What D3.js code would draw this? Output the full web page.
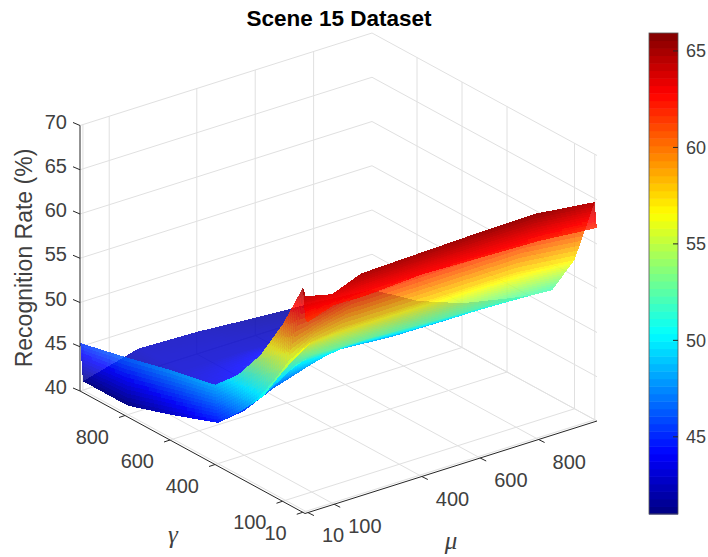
<!DOCTYPE html>
<html>
<head>
<meta charset="utf-8">
<script src="https://cdn.jsdelivr.net/npm/d3@7"></script>
<style>
  html, body { margin: 0; padding: 0; background: #fff; }
  text { font-family: "Liberation Sans", Arial, sans-serif; fill: #404040; }
</style>
</head>
<body>
<svg id="chart" width="708" height="557"></svg>
<script>
// data
const gammaValues = [1, 10, 100, 200, 300, 400, 600, 800, 1000];
const muValues = [1, 10, 100, 200, 400, 600, 800, 1000];
// one row per gamma, one column per mu
const rateRows = [
  [62.0, 61.5, 62.5, 62.4, 62.8, 62.6, 62.4, 61.8],
  [65.4, 64.3, 63.6, 64.9, 65.1, 65.3, 65.4, 64.6],
  [60.0, 55.0, 57.0, 57.5, 57.5, 57.5, 57.5, 56.8],
  [55.1, 50.3, 53.5, 53.3, 53.1, 52.8, 52.5, 52.0],
  [51.5, 47.3, 48.4, 50.6, 50.8, 50.4, 50.2, 50.0],
  [49.0, 44.6, 45.0, 46.5, 48.6, 48.1, 48.0, 48.3],
  [47.9, 42.7, 43.3, 44.0, 45.6, 45.6, 45.0, 45.0],
  [46.6, 41.0, 42.0, 43.0, 43.0, 42.8, 42.5, 42.5],
  [45.4, 41.0, 41.8, 42.7, 42.5, 42.0, 41.6, 41.0]
];
const gammaTicks = [10, 100, 400, 600, 800];
const muTicks = [10, 100, 400, 600, 800];
const rateTicks = [40, 45, 50, 55, 60, 65, 70];
const colorTicks = [45, 50, 55, 60, 65];

const svg = d3.select("#chart");

// box corners on the page
const corner = {x: 305, y: 513.5};
const gammaVec = {x: -225, y: -122.5};
const muVec = {x: 292, y: -92.5};

const gammaT = d3.scaleLinear().domain([0, 1000]).range([0, 1]);
const muT = d3.scaleLinear().domain([0, 1000]).range([0, 1]);
const rateY = d3.scaleLinear().domain([40, 70]).range([0, 265.5]);

function project(g, m, z) {
  let a = gammaT(g), b = muT(m);
  return [
    corner.x + a * gammaVec.x + b * muVec.x,
    corner.y + a * gammaVec.y + b * muVec.y - rateY(z)
  ];
}

// far cells first
function depth(g, m, z) {
  return 263 * gammaT(g) + 206 * muT(m) - 4.14 * (z - 40);
}

const colorDomain = [41, 65.93];
const jet = d3.scaleLinear()
  .domain([0, 0.125, 0.375, 0.625, 0.875, 1])
  .range(["#000080", "#0000ff", "#00ffff", "#ffff00", "#ff0000", "#800000"]);
const colorT = d3.scaleLinear().domain(colorDomain).range([0, 1]).clamp(true);
const levelColor = i => jet((i + 0.5) / 64);

// walls and floor
const gridLines = [];
for (let z of rateTicks) {
  gridLines.push([[1000, 0, z], [1000, 1000, z]]);
  gridLines.push([[1000, 1000, z], [0, 1000, z]]);
}
for (let m of muTicks) {
  gridLines.push([[1000, m, 40], [1000, m, 70]]);
  gridLines.push([[1000, m, 40], [0, m, 40]]);
}
for (let g of gammaTicks) {
  gridLines.push([[g, 1000, 40], [g, 1000, 70]]);
  gridLines.push([[g, 1000, 40], [g, 0, 40]]);
}
gridLines.push([[1000, 0, 40], [1000, 1000, 40]], [[1000, 1000, 40], [0, 1000, 40]]);

const line = d3.line();
svg.append("g").attr("fill", "none").attr("stroke", "#e0e0e0").attr("stroke-width", 1)
  .selectAll("path").data(gridLines).join("path")
  .attr("d", d => line(d.map(p => project(p[0], p[1], p[2]))));

// surface: every cell cut into small pieces so the colour runs across it
const pieces = [];
const steps = 12;
for (let r = 0; r < gammaValues.length - 1; r++) {
  for (let c = 0; c < muValues.length - 1; c++) {
    let g0 = gammaValues[r], g1 = gammaValues[r + 1];
    let m0 = muValues[c], m1 = muValues[c + 1];
    let zAt = (u, v) =>
      (1 - u) * (1 - v) * rateRows[r][c] + (1 - u) * v * rateRows[r][c + 1] +
      u * (1 - v) * rateRows[r + 1][c] + u * v * rateRows[r + 1][c + 1];
    for (let i = 0; i < steps; i++) {
      for (let j = 0; j < steps; j++) {
        let u0 = i / steps, u1 = (i + 1) / steps, v0 = j / steps, v1 = (j + 1) / steps;
        let at = (u, v) => project(g0 + u * (g1 - g0), m0 + v * (m1 - m0), zAt(u, v));
        let zMid = zAt((u0 + u1) / 2, (v0 + v1) / 2);
        pieces.push({
          pts: [at(u0, v0), at(u0, v1), at(u1, v1), at(u1, v0)],
          z: zMid,
          d: depth(g0 + (u0 + u1) / 2 * (g1 - g0), m0 + (v0 + v1) / 2 * (m1 - m0), zMid)
        });
      }
    }
  }
}
pieces.sort((a, b) => b.d - a.d);

svg.append("defs").append("filter").attr("id", "soft")
  .attr("x", "-5%").attr("y", "-5%").attr("width", "110%").attr("height", "110%")
  .append("feGaussianBlur").attr("stdDeviation", 0.7);

svg.append("g").attr("filter", "url(#soft)").attr("shape-rendering", "crispEdges")
  .selectAll("polygon").data(pieces).join("polygon")
  .attr("points", d => d.pts.map(p => p.join(",")).join(" "))
  .attr("fill", d => jet(colorT(d.z)))
  .attr("fill-opacity", 0.84);

// axis lines
const axisColor = "#262626";
const axes = svg.append("g").attr("fill", "none").attr("stroke", axisColor).attr("stroke-width", 1);
axes.append("path").attr("d", line([project(1000, 0, 40), project(1000, 0, 70)]));
axes.append("path").attr("d", line([project(1000, 0, 40), project(0, 0, 40)]));
axes.append("path").attr("d", line([project(0, 0, 40), project(0, 1000, 40)]));

// ticks and tick labels
for (let z of rateTicks) {
  let p = project(1000, 0, z);
  axes.append("path").attr("d", line([p, [p[0] - 7, p[1] - 3]]));
  svg.append("text").attr("x", p[0] - 13).attr("y", p[1] - 4)
    .attr("text-anchor", "end").attr("dy", "0.35em").attr("font-size", 20).text(z);
}
for (let g of gammaTicks) {
  let p = project(g, 0, 40);
  axes.append("path").attr("d", line([p, [p[0] - 6, p[1] + 2]]));
  svg.append("text").attr("x", p[0] - 16).attr("y", p[1] + 21)
    .attr("text-anchor", "end").attr("dy", "0.35em").attr("font-size", 20).text(g);
}
for (let m of muTicks) {
  let p = project(0, m, 40);
  axes.append("path").attr("d", line([p, [p[0] + 6, p[1] + 3]]));
  svg.append("text").attr("x", p[0] + 14).attr("y", p[1] + 22)
    .attr("text-anchor", "start").attr("dy", "0.35em").attr("font-size", 20).text(m);
}

// titles
svg.append("text").attr("x", 339).attr("y", 26).attr("text-anchor", "middle")
  .attr("font-size", 22.5).attr("font-weight", "bold").style("fill", "#000").text("Scene 15 Dataset");
svg.append("text").attr("transform", "translate(32,258) rotate(-90)").attr("text-anchor", "middle")
  .attr("font-size", 23).text("Recognition Rate (%)");
svg.append("text").attr("x", 173).attr("y", 543).attr("text-anchor", "middle")
  .attr("font-size", 25).attr("font-style", "italic").style("font-family", "'Liberation Serif', serif").text("γ");
svg.append("text").attr("x", 451).attr("y", 549).attr("text-anchor", "middle")
  .attr("font-size", 25).attr("font-style", "italic").style("font-family", "'Liberation Serif', serif").text("μ");

// colorbar
const barY = d3.scaleLinear().domain(colorDomain).range([514, 33]);
const barStep = (colorDomain[1] - colorDomain[0]) / 64;
const bar = svg.append("g");
bar.selectAll("rect").data(d3.range(64)).join("rect")
  .attr("x", 649).attr("width", 29)
  .attr("y", i => barY(colorDomain[0] + (i + 1) * barStep))
  .attr("height", barY(colorDomain[0]) - barY(colorDomain[0] + barStep) + 0.5)
  .attr("fill", levelColor);
bar.append("rect").attr("x", 649).attr("y", 33).attr("width", 29).attr("height", 481)
  .attr("fill", "none").attr("stroke", "#555").attr("stroke-width", 0.8);
for (let v of colorTicks) {
  bar.append("path").attr("d", line([[673, barY(v)], [678, barY(v)]]))
    .attr("stroke", axisColor).attr("fill", "none");
  bar.append("text").attr("x", 686).attr("y", barY(v)).attr("dy", "0.35em")
    .attr("font-size", 18).text(v);
}
</script>
</body>
</html>
